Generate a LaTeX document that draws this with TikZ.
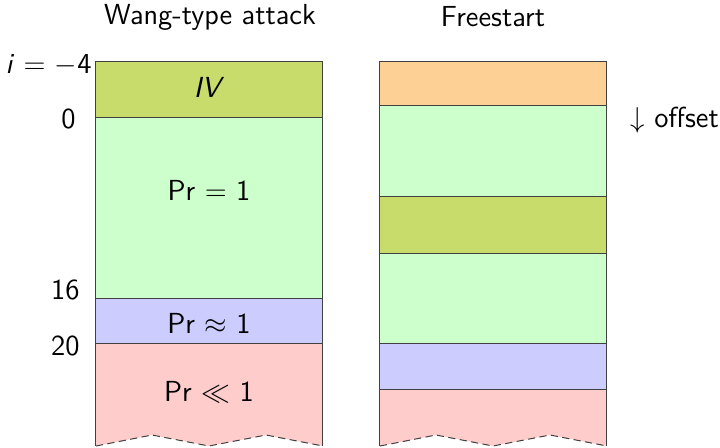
\documentclass[tikz,border=0pt]{standalone}
\usepackage{amssymb}
\begin{document}
\begin{tikzpicture}[x=0.5pt,y=-0.5pt,
  font=\sffamily\fontsize{14.5}{17}\selectfont,
  blk/.style={draw=black!75,line width=0.5pt},
  lbl/.style={inner sep=0pt},
  zig/.style={draw=black!75,line width=0.5pt,dash pattern=on 3.6pt off 2.2pt}]
\definecolor{olive}{HTML}{C8DC6C}
\definecolor{lgreen}{HTML}{CCFFCC}
\definecolor{lblue}{HTML}{CCCCFF}
\definecolor{lpink}{HTML}{FFCCCC}
\definecolor{lorange}{HTML}{FDD095}
\useasboundingbox (0,0) rectangle (720,447);
% left column
\filldraw[blk,fill=olive] (96,61) rectangle (323,117);
\filldraw[blk,fill=lgreen] (96,117) rectangle (323,298);
\filldraw[blk,fill=lblue] (96,298) rectangle (323,343);
\fill[lpink] (96,343) -- (323,343) -- (323,446) -- (266,435) -- (209,446) -- (152,435) -- (96,446) -- cycle;
\draw[blk] (96,446) -- (96,343) -- (323,343) -- (323,446);
\draw[zig] (96,446) -- (152,435) -- (209,446) -- (266,435) -- (323,446);
% right column
\filldraw[blk,fill=lorange] (380,61) rectangle (607,105);
\filldraw[blk,fill=lgreen] (380,105) rectangle (607,196);
\filldraw[blk,fill=olive] (380,196) rectangle (607,253);
\filldraw[blk,fill=lgreen] (380,253) rectangle (607,343);
\filldraw[blk,fill=lblue] (380,343) rectangle (607,389);
\fill[lpink] (380,389) -- (607,389) -- (607,446) -- (550,435) -- (493,446) -- (436,435) -- (380,446) -- cycle;
\draw[blk] (380,446) -- (380,389) -- (607,389) -- (607,446);
\draw[zig] (380,446) -- (436,435) -- (493,446) -- (550,435) -- (607,446);
% texts
\node[lbl] (t1) at (210,17) {Wang-type attack};
\node[lbl] (t2) at (493,17) {Freestart};
\node[lbl] (iv) at (209,87) {\textit{IV}};
\node[lbl] (p1) at (209,190) {Pr $=$ 1};
\node[lbl] (p2) at (209,323) {Pr $\approx$ 1};
\node[lbl] (p3) at (209,392) {Pr $\ll$ 1};
\node[lbl,anchor=east] (im4) at (92,65) {\textit{i} $=$ $-$4};
\node[lbl,anchor=east] (z0) at (76,119) {0};
\node[lbl,anchor=east] (z16) at (80,290) {16};
\node[lbl,anchor=east] (z20) at (80,346) {20};
\node[lbl,anchor=west] (off) at (630,120) {$\downarrow$ offset};
\end{tikzpicture}
\end{document}
